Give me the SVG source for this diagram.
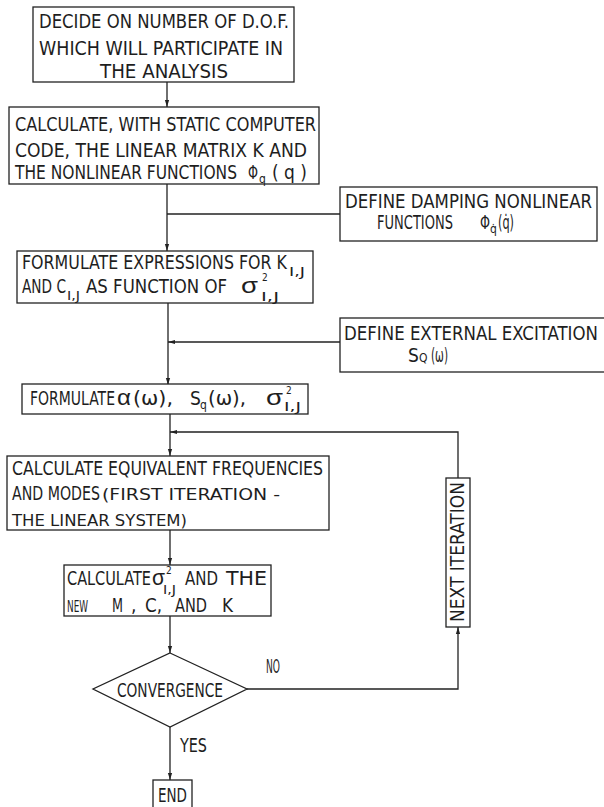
<svg xmlns="http://www.w3.org/2000/svg" width="604" height="807" viewBox="0 0 604 807">
<defs>
<marker id="ah" viewBox="0 0 10 10" refX="10" refY="5" markerWidth="7" markerHeight="7" markerUnits="userSpaceOnUse" orient="auto"><path d="M0,2 L10,5 L0,8 z" fill="#222"/></marker>
<style>
.b{fill:#fff;stroke:#222;stroke-width:1.3}
.c{fill:none;stroke:#222;stroke-width:1.3}
text{font-family:"Liberation Sans Narrow","DejaVu Sans Condensed","Liberation Sans",Arial,sans-serif;fill:#1e1e1e}
.t{font-size:19px}
.sm{font-size:15px}
.sub{font-size:12px}
.sup{font-size:10px}
.g{font-size:22px;font-family:"Liberation Sans",Arial,sans-serif}
</style>
</defs>
<rect width="604" height="807" fill="#fff"/>
<g id="connectors">
<path class="c" d="M167,82 V107" marker-end="url(#ah)"/>
<path class="c" d="M167,184 V251" marker-end="url(#ah)"/>
<path class="c" d="M340,214 H167"/>
<path class="c" d="M168,303 V385" marker-end="url(#ah)"/>
<path class="c" d="M340,342 H168" marker-end="url(#ah)"/>
<path class="c" d="M170,414 V456" marker-end="url(#ah)"/>
<path class="c" d="M458,478 V432 H170" marker-end="url(#ah)"/>
<path class="c" d="M170,530 V565" marker-end="url(#ah)"/>
<path class="c" d="M170,616 V653" marker-end="url(#ah)"/>
<path class="c" d="M170,727 V780" marker-end="url(#ah)"/>
<path class="c" d="M247,689 H458 V627" marker-end="url(#ah)"/>
</g>
<g id="n1">
<rect class="b" x="33" y="7" width="261" height="75"/>
<text class="t" x="39" y="28" textLength="250" lengthAdjust="spacingAndGlyphs">DECIDE ON NUMBER OF D.O.F.</text>
<text class="t" x="39" y="55" textLength="244" lengthAdjust="spacingAndGlyphs">WHICH WILL PARTICIPATE IN</text>
<text class="t" x="100" y="78" textLength="128" lengthAdjust="spacingAndGlyphs">THE  ANALYSIS</text>
</g>
<g id="n2">
<rect class="b" x="9" y="107" width="310" height="77"/>
<text class="t" x="15" y="131" textLength="301" lengthAdjust="spacingAndGlyphs">CALCULATE, WITH STATIC COMPUTER</text>
<text class="t" x="15" y="157" textLength="292" lengthAdjust="spacingAndGlyphs">CODE, THE LINEAR MATRIX K AND</text>
<text class="t" y="179"><tspan x="15" textLength="222" lengthAdjust="spacingAndGlyphs">THE NONLINEAR FUNCTIONS</tspan><tspan x="248" textLength="10" lengthAdjust="spacingAndGlyphs">Φ</tspan><tspan class="sub" x="259" y="183">q</tspan><tspan x="272" y="179" textLength="35" lengthAdjust="spacingAndGlyphs">( q )</tspan></text>
</g>
<g id="n3">
<rect class="b" x="340" y="187" width="257" height="54"/>
<text class="t" x="345" y="208" textLength="247" lengthAdjust="spacingAndGlyphs">DEFINE DAMPING NONLINEAR</text>
<text class="t" y="229"><tspan x="377" textLength="76" lengthAdjust="spacingAndGlyphs">FUNCTIONS</tspan><tspan x="480" textLength="10" lengthAdjust="spacingAndGlyphs">Φ</tspan><tspan class="sub" x="490" y="233">q̇</tspan><tspan x="498" y="229" textLength="16" lengthAdjust="spacingAndGlyphs">(q̇)</tspan></text>
</g>
<g id="n4">
<rect class="b" x="17" y="251" width="296" height="52"/>
<text class="t" y="269"><tspan x="22" textLength="265" lengthAdjust="spacingAndGlyphs">FORMULATE EXPRESSIONS FOR K</tspan><tspan class="sub" x="289" y="276" textLength="16" lengthAdjust="spacingAndGlyphs">I,J</tspan></text>
<text class="t" y="293"><tspan x="22" textLength="44" lengthAdjust="spacingAndGlyphs">AND C</tspan><tspan class="sub" x="67" y="300" textLength="13" lengthAdjust="spacingAndGlyphs">I,J</tspan><tspan x="86" y="293" textLength="141" lengthAdjust="spacingAndGlyphs">AS FUNCTION OF</tspan><tspan class="g" x="241" textLength="17" lengthAdjust="spacingAndGlyphs">σ</tspan><tspan class="sup" x="262" y="281">2</tspan><tspan class="sub" x="261" y="301" textLength="18" lengthAdjust="spacingAndGlyphs">I,J</tspan></text>
</g>
<g id="n5">
<rect class="b" x="340" y="318" width="266" height="54"/>
<text class="t" x="344" y="340" font-size="16.5" textLength="254" lengthAdjust="spacingAndGlyphs">DEFINE EXTERNAL EXCITATION</text>
<text class="t" y="362"><tspan x="408">S</tspan><tspan class="sub" x="419">Q</tspan><tspan x="431" textLength="17" lengthAdjust="spacingAndGlyphs">(ω)</tspan></text>
</g>
<g id="n6">
<rect class="b" x="22" y="384" width="286" height="30"/>
<text class="t" y="405"><tspan x="30" textLength="85" lengthAdjust="spacingAndGlyphs">FORMULATE</tspan><tspan class="g" x="117" textLength="14" lengthAdjust="spacingAndGlyphs">α</tspan><tspan x="133" textLength="40" lengthAdjust="spacingAndGlyphs">(ω),</tspan><tspan x="190">S</tspan><tspan class="sub" x="200" y="409">q</tspan><tspan x="208" y="405" textLength="38" lengthAdjust="spacingAndGlyphs">(ω),</tspan><tspan class="g" x="266" textLength="17" lengthAdjust="spacingAndGlyphs">σ</tspan><tspan class="sup" x="286" y="394">2</tspan><tspan class="sub" x="284" y="411" textLength="17" lengthAdjust="spacingAndGlyphs">I,J</tspan></text>
</g>
<g id="n7">
<rect class="b" x="7" y="456" width="322" height="74"/>
<text class="t" x="12" y="475" textLength="311" lengthAdjust="spacingAndGlyphs">CALCULATE EQUIVALENT FREQUENCIES</text>
<text class="t" y="500"><tspan x="12" textLength="88" lengthAdjust="spacingAndGlyphs">AND MODES</tspan><tspan class="sm" x="102" textLength="178" lengthAdjust="spacingAndGlyphs">(FIRST ITERATION -</tspan></text>
<text class="sm" x="12" y="526" textLength="175" lengthAdjust="spacingAndGlyphs">THE LINEAR SYSTEM)</text>
</g>
<g id="n8">
<rect class="b" x="64" y="565" width="207" height="51"/>
<text class="t" y="585"><tspan x="67" textLength="84" lengthAdjust="spacingAndGlyphs">CALCULATE</tspan><tspan class="g" x="152" textLength="13" lengthAdjust="spacingAndGlyphs">σ</tspan><tspan class="sup" x="166" y="574">2</tspan><tspan class="sub" x="163" y="594" textLength="13" lengthAdjust="spacingAndGlyphs">I,J</tspan><tspan x="185" y="585" textLength="33" lengthAdjust="spacingAndGlyphs">AND</tspan><tspan x="226" textLength="41" lengthAdjust="spacingAndGlyphs">THE</tspan></text>
<text class="t" y="612"><tspan x="67" font-size="16" textLength="21" lengthAdjust="spacingAndGlyphs">NEW</tspan><tspan x="112" textLength="11" lengthAdjust="spacingAndGlyphs">M</tspan><tspan x="131">,</tspan><tspan x="145" textLength="17" lengthAdjust="spacingAndGlyphs">C,</tspan><tspan x="175" textLength="32" lengthAdjust="spacingAndGlyphs">AND</tspan><tspan x="222" textLength="11" lengthAdjust="spacingAndGlyphs">K</tspan></text>
</g>
<g id="n9">
<polygon class="b" points="170,653 247,689 170,727 93,689"/>
<text class="t" x="117" y="697" textLength="106" lengthAdjust="spacingAndGlyphs">CONVERGENCE</text>
</g>
<g id="n10">
<rect class="b" x="446" y="478" width="24" height="149"/>
<text class="t" x="0" y="0" transform="translate(464,552) rotate(-90)" text-anchor="middle" textLength="140" lengthAdjust="spacingAndGlyphs">NEXT ITERATION</text>
</g>
<g id="n11">
<rect class="b" x="153" y="780" width="39" height="30"/>
<text class="t" x="158" y="802" textLength="29" lengthAdjust="spacingAndGlyphs">END</text>
</g>
<g id="labels">
<text class="t" x="266" y="673" textLength="14" lengthAdjust="spacingAndGlyphs">NO</text>
<text class="t" x="180" y="752" textLength="27" lengthAdjust="spacingAndGlyphs">YES</text>
</g>
</svg>
